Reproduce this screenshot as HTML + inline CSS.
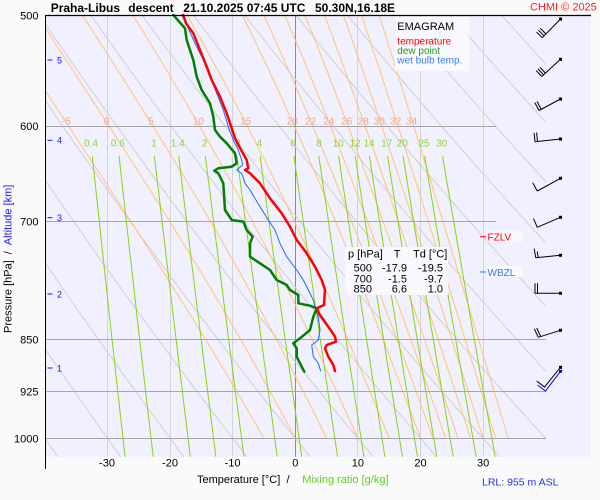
<!DOCTYPE html>
<html><head><meta charset="utf-8">
<style>
html,body{margin:0;padding:0;background:#fafafa;width:600px;height:500px;overflow:hidden;}
svg{display:block;font-family:"Liberation Sans",Arial,sans-serif;}
</style></head><body>
<svg width="600" height="500" viewBox="0 0 600 500" xmlns="http://www.w3.org/2000/svg">
<defs><clipPath id="c"><rect x="46" y="15.3" width="499.7" height="441.4"/></clipPath></defs>
<rect x="0" y="0" width="600" height="500" fill="#fafafa"/>
<rect x="46" y="15.3" width="545" height="441.4" fill="#f0f0fe"/>

<!-- isotherms -->
<g stroke="#d4d4d4" stroke-width="1">
<line x1="107.5" y1="15.3" x2="107.5" y2="456.7"/>
<line x1="170.5" y1="15.3" x2="170.5" y2="456.7"/>
<line x1="232.5" y1="15.3" x2="232.5" y2="456.7"/>
<line x1="357.5" y1="15.3" x2="357.5" y2="456.7"/>
<line x1="420.5" y1="15.3" x2="420.5" y2="456.7"/>
<line x1="483.5" y1="15.3" x2="483.5" y2="456.7"/>
</g>
<line x1="295.5" y1="15.3" x2="295.5" y2="456.7" stroke="#8c8c8c" stroke-width="1"/>

<!-- computed diagrams -->
<g clip-path="url(#c)" fill="none" stroke-width="1">
<path id="dry" stroke="#d0d0d0"/>
<path id="moist" stroke="#ffc476"/>
<path id="mix" stroke="#88d412"/>
</g>

<!-- isobars -->
<g stroke="#a6a6a6" stroke-width="1">
<line x1="46" y1="126.5" x2="496" y2="126.5"/>
<line x1="46" y1="221.5" x2="496" y2="221.5"/>
<line x1="46" y1="339.5" x2="546" y2="339.5"/>
<line x1="46" y1="391.5" x2="546" y2="391.5"/>
<line x1="46" y1="438.5" x2="546" y2="438.5"/>
</g>

<!-- orange labels -->
<g fill="#f6a58c" font-size="10" text-anchor="middle">
<text x="66.3" y="124.5">-5</text>
<text x="106.7" y="124.5">0</text>
<text x="151" y="124.5">5</text>
<text x="198.3" y="124.5">10</text>
<text x="245.7" y="124.5">15</text>
<text x="292.3" y="124.5">20</text>
<text x="310.7" y="124.5">22</text>
<text x="328.7" y="124.5">24</text>
<text x="346.7" y="124.5">26</text>
<text x="363.3" y="124.5">28</text>
<text x="379.3" y="124.5">30</text>
<text x="395.7" y="124.5">32</text>
<text x="411.7" y="124.5">34</text>
</g>
<!-- green labels -->
<g fill="#8cd43c" font-size="10" text-anchor="middle">
<text x="91" y="146.3">0.4</text>
<text x="117.8" y="146.3">0.6</text>
<text x="154" y="146.3">1</text>
<text x="177.7" y="146.3">1.4</text>
<text x="204.7" y="146.3">2</text>
<text x="238" y="146.3">3</text>
<text x="259.3" y="146.3">4</text>
<text x="293.3" y="146.3">6</text>
<text x="319" y="146.3">8</text>
<text x="338.3" y="146.3">10</text>
<text x="355" y="146.3">12</text>
<text x="369" y="146.3">14</text>
<text x="386.7" y="146.3">17</text>
<text x="402.3" y="146.3">20</text>
<text x="424" y="146.3">25</text>
<text x="441.7" y="146.3">30</text>
</g>

<!-- legend -->
<rect x="395" y="17" width="74" height="54" fill="#f9f9fd"/>
<text x="397.3" y="30" font-size="11" fill="#000">EMAGRAM</text>
<text x="397.3" y="44.3" font-size="10" fill="#ff0000">temperature</text>
<text x="397.3" y="54" font-size="10" fill="#229922">dew point</text>
<text x="397.3" y="63.3" font-size="10" fill="#3a7ff0">wet bulb temp.</text>

<!-- table -->
<rect x="345" y="247" width="103" height="48" fill="#f9f9fd"/>
<g font-size="11" fill="#000">
<text x="348" y="257.3">p [hPa]</text>
<text x="393.8" y="257.3">T</text>
<text x="413" y="257.3">Td [°C]</text>
</g>
<g font-size="11" fill="#000" text-anchor="end">
<text x="372" y="271.7">500</text><text x="407" y="271.7">-17.9</text><text x="443" y="271.7">-19.5</text>
<text x="372" y="282.3">700</text><text x="407" y="282.3">-1.5</text><text x="443" y="282.3">-9.7</text>
<text x="372" y="292.7">850</text><text x="407" y="292.7">6.6</text><text x="443" y="292.7">1.0</text>
</g>

<!-- profiles -->
<g fill="none" stroke-linejoin="round" stroke-linecap="round">
<polyline stroke="#1a6cff" stroke-width="1" points="181.7,15 188.3,28.3 195,43.3 203.3,60 210,76.7 216.7,93.3 223.3,110 228.3,126.7 233.3,140 238.3,150 241.7,160 242.7,165 236.7,170 241.7,173.3 245,183.3 250,190 260,206.7 268.3,220 275,230 280,243.3 286.7,256.7 296.7,270 303.3,280 308.3,290 313.3,300 315,306.7 318.3,316.7 320,330 318.3,340 311.7,345 313.3,356.7 318.3,363.3 320.7,371"/>
<polyline stroke="#008000" stroke-width="2.5" points="173.3,15 185,28.3 186.7,40 193.3,60 196.7,76.7 201.7,90 210,103.3 213.3,116.7 215,130 220,136.7 226.7,143.3 235,153.3 236.7,163.3 231.7,166.7 218.3,168.3 214.3,170.7 218.3,173.3 223.3,183.3 225,210 231.7,220 243.3,221.7 246.7,230 252.7,236.7 250,243.3 250,256.7 260,263.3 270,270 276.7,280 286.7,285 290,290 298.3,295 298.3,303.3 310,305.7 316.7,308.3 313.3,316.7 310,330 300,338.3 293.3,343.3 296.7,348.3 296.7,356.7 300,363.3 304.3,371.7"/>
<polyline stroke="#ff0000" stroke-width="2.5" points="183.3,15 186,23.3 193.3,33.3 200,50 206.7,66.7 211.7,80 220,96.7 226.7,113.3 231.7,128.3 235,138.3 240,148 246.7,160 248.3,168.3 245,170 250,173.3 260,183.3 270,198.3 281.7,213.3 290,226.7 296.7,240 306.7,253.3 315,266.7 321.7,280 325,290 324,305 316.7,308.3 320,315 328.3,326.7 335,336.7 336,341.7 326.7,345 325,348.3 328.3,356.7 333.3,365 335,371"/>
</g>

<!-- FZLV / WBZL -->
<line x1="480" y1="236.7" x2="486" y2="236.7" stroke="#ff0000" stroke-width="1"/>
<rect x="487" y="231" width="36" height="11" fill="#f9f9fd"/>
<text x="487.5" y="240.7" font-size="10" fill="#ff0000">FZLV</text>
<line x1="480" y1="272" x2="486" y2="272" stroke="#3377ee" stroke-width="1"/>
<rect x="487" y="266" width="36" height="11" fill="#f9f9fd"/>
<text x="487.5" y="276" font-size="10" fill="#3377ee">WBZL</text>

<!-- wind barbs -->
<g stroke="#000" stroke-width="1" fill="none">
<path d="M560.5,19 L542.3,37.7 M542.3,37.7 l-5.7,-5.6 M544.1,35.8 l-5.7,-5.6 M545.9,33.9 l-5.7,-5.6"/>
<path d="M560.5,59.3 L541.7,76.5 M541.7,76.5 l-5.4,-5.9 M543.5,74.8 l-5.4,-5.9 M545.4,73.1 l-5.4,-5.9"/>
<path d="M560.5,99 L539,110.5 M539,110.5 l-4.2,-7.9 M541.2,109.3 l-4.2,-7.9"/>
<path d="M560.5,139 L535,141.7 M535,141.7 l-0.9,-8.9 M537.5,141.4 l-0.9,-8.9"/>
<path d="M560.5,178.3 L537.3,191 M537.3,191 l-4.6,-8.3"/>
<path d="M560.5,217.3 L537.3,227.3 M537.3,227.3 l-3.8,-8.7"/>
<path d="M560.5,255.3 L535.7,257.7 M535.7,257.7 l-1.5,-9 M538.2,257.5 l-1,-6"/>
<path d="M560.5,293.3 L535,293.3 M535,293.3 l0,-10 M537.5,293.3 l0,-10"/>
<path d="M560.5,330.3 L538.3,337.3 M538.3,337.3 l-4,-8.5 M540.7,336.5 l-4,-8.5"/>
<path d="M560.5,367.3 L544.5,387 l-7.8,-6"/>
</g>
<path d="M560.5,371.3 L545.5,391 l-8,-6" stroke="#0000ff" stroke-width="1" fill="none"/>
<g fill="#000">
<rect x="559" y="17.5" width="3" height="3"/>
<rect x="559" y="57.8" width="3" height="3"/>
<rect x="559" y="97.5" width="3" height="3"/>
<rect x="559" y="137.5" width="3" height="3"/>
<rect x="559" y="176.8" width="3" height="3"/>
<rect x="559" y="215.8" width="3" height="3"/>
<rect x="559" y="253.8" width="3" height="3"/>
<rect x="559" y="291.8" width="3" height="3"/>
<rect x="559" y="328.8" width="3" height="3"/>
<rect x="559" y="365.8" width="3" height="3"/>
</g>
<rect x="559" y="369.8" width="3" height="3" fill="#0000ff"/>

<!-- axes -->
<line x1="45.5" y1="15" x2="45.5" y2="469" stroke="#000" stroke-width="1"/>
<line x1="45" y1="15.5" x2="591" y2="15.5" stroke="#000" stroke-width="1.3"/>

<!-- pressure labels -->
<g font-size="11" fill="#000" text-anchor="end">
<text x="38.5" y="19.5">500</text>
<text x="38.5" y="130">600</text>
<text x="38.5" y="225.3">700</text>
<text x="38.5" y="343.3">850</text>
<text x="38.5" y="395.3">925</text>
<text x="38.5" y="442.3">1000</text>
</g>
<!-- altitude -->
<g stroke="#1414ff" stroke-width="1">
<line x1="47.5" y1="60" x2="52.5" y2="60"/>
<line x1="47.5" y1="140.3" x2="52.5" y2="140.3"/>
<line x1="47.5" y1="217.7" x2="52.5" y2="217.7"/>
<line x1="47.5" y1="294" x2="52.5" y2="294"/>
<line x1="47.5" y1="368" x2="52.5" y2="368"/>
</g>
<g font-size="9" fill="#1414ff">
<text x="57" y="63.3">5</text>
<text x="57" y="143.6">4</text>
<text x="57" y="221">3</text>
<text x="57" y="297.3">2</text>
<text x="57" y="371.3">1</text>
</g>
<text transform="translate(11.5,333) rotate(-90)" font-size="11" fill="#000">Pressure [hPa]<tspan dx="6">/</tspan><tspan dx="6" fill="#1a1aff">Altitude [km]</tspan></text>

<!-- temperature labels -->
<g font-size="11" fill="#000" text-anchor="middle">
<text x="107" y="466.7">-30</text>
<text x="170" y="466.7">-20</text>
<text x="232.5" y="466.7">-10</text>
<text x="295.3" y="466.7">0</text>
<text x="357.9" y="466.7">10</text>
<text x="420.5" y="466.7">20</text>
<text x="483.1" y="466.7">30</text>
</g>
<text x="197" y="483" font-size="11" fill="#000">Temperature [°C]</text>
<text x="286.5" y="483" font-size="11" fill="#000">/</text>
<text x="302.3" y="483" font-size="11" fill="#66cc22">Mixing ratio [g/kg]</text>
<text x="482" y="485.5" font-size="10.5" fill="#2233ee">LRL: 955 m ASL</text>

<!-- title -->
<g font-size="12" font-weight="bold" fill="#000">
<text x="50.7" y="12">Praha-Libus</text>
<text x="128.3" y="12">descent</text>
<text x="183.3" y="12">21.10.2025 07:45 UTC</text>
<text x="315" y="12">50.30N,16.18E</text>
</g>
<text x="530" y="10.5" font-size="11" fill="#ff2020">CHMI © 2025</text>
</svg>
<script>
(function(){
var X=function(T){return 295.3+6.26*T;}, Y=function(p){return 15.3+610.3*Math.log(p/500);};
function f(v){return v.toFixed(1);}
var d='',s,p,T,i;
for(var th=-40;th<=120;th+=10){
  s='';
  for(p=470;p<=1040;p+=10){
    T=(th+273.15)*Math.pow(p/1000,0.2857)-273.15;
    s+=(s?'L':'M')+f(X(T))+','+f(Y(p));
  }
  d+=s;
}
document.getElementById('dry').setAttribute('d',d);
function es(Tc){return 6.112*Math.exp(17.67*Tc/(Tc+243.5));}
function g(p,T){var e=es(T-273.15);var rs=0.622*e/(p-e);var Rd=287.04,Cp=1005.7,L=2.501e6;
 return (Rd*T+L*rs)/(Cp+L*L*rs*0.622/(Rd*T*T))/p;}
var tw=[-5,0,5,10,15,20,22,24,26,28,30,32,34]; d='';
for(i=0;i<tw.length;i++){
 T=tw[i]+273.15; p=1000; var h=-5; s='M'+f(X(tw[i]))+','+f(Y(1000));
 while(p>470){
  var k1=g(p,T),k2=g(p+h/2,T+h/2*k1),k3=g(p+h/2,T+h/2*k2),k4=g(p+h,T+h*k3);
  T+=h/6*(k1+2*k2+2*k3+k4); p+=h;
  s+='L'+f(X(T-273.15))+','+f(Y(p));
 }
 d+=s;
}
document.getElementById('moist').setAttribute('d',d);
var ws=[0.4,0.6,1,1.4,2,3,4,6,8,10,12,14,17,20,25,30]; d='';
var p0=500*Math.exp((156-15.3)/610.3);
for(i=0;i<ws.length;i++){
 var w=ws[i]/1000; s='';
 for(p=p0;p<=1045;p+=10){
   var e=w*p/(0.622+w), a=Math.log(e/6.112), Tc=243.5*a/(17.67-a);
   s+=(s?'L':'M')+f(X(Tc))+','+f(Y(p));
 }
 d+=s;
}
document.getElementById('mix').setAttribute('d',d);
})();
</script>
</body></html>
